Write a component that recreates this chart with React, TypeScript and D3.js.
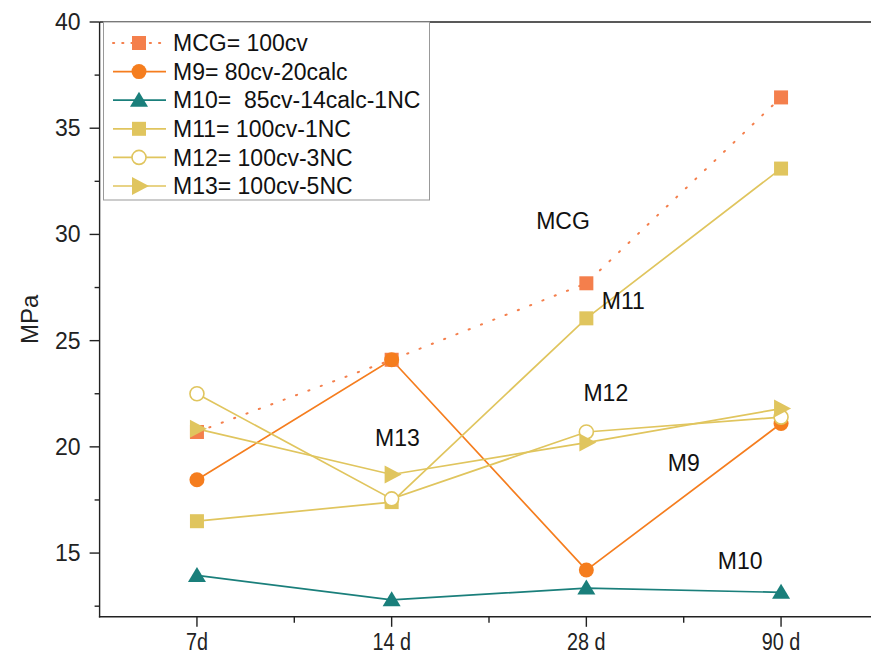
import React from "react";
import * as d3 from "d3";

const categories = ["7d", "14 d", "28 d", "90 d"];
const seriesNames = [
  "MCG= 100cv",
  "M9= 80cv-20calc",
  "M10=  85cv-14calc-1NC",
  "M11= 100cv-1NC",
  "M12= 100cv-3NC",
  "M13= 100cv-5NC",
];
const mcg = [20.7, 24.1, 27.7, 36.45];
const m9 = [18.45, 24.1, 14.2, 21.1];
const m10 = [13.95, 12.8, 13.35, 13.15];
const m11 = [16.5, 17.4, 26.05, 33.1];
const m12 = [22.5, 17.55, 20.7, 21.4];
const m13 = [20.85, 18.7, 20.2, 21.8];
const yTicks = [15, 20, 25, 30, 35, 40];
const annotations = [
  { text: "MCG", cat: 2.88, val: 30.25 },
  { text: "M11", cat: 3.19, val: 26.5 },
  { text: "M12", cat: 3.1, val: 22.15 },
  { text: "M13", cat: 2.03, val: 20.05 },
  { text: "M9", cat: 3.5, val: 18.85 },
  { text: "M10", cat: 3.79, val: 14.25 },
];

const W = 871;
const H = 658;
const FONT = "'Liberation Sans', Arial, sans-serif";

type Marker = "square" | "circle" | "triangle" | "open" | "right";
interface Series {
  name: string;
  values: number[];
  color: string;
  marker: Marker;
  dotted?: boolean;
}

const series: Series[] = [
  { name: seriesNames[0], values: mcg, color: "#f47f4c", marker: "square", dotted: true },
  { name: seriesNames[1], values: m9, color: "#f57d1e", marker: "circle" },
  { name: seriesNames[2], values: m10, color: "#1a7f7b", marker: "triangle" },
  { name: seriesNames[3], values: m11, color: "#e0c55e", marker: "square" },
  { name: seriesNames[4], values: m12, color: "#e0c55e", marker: "open" },
  { name: seriesNames[5], values: m13, color: "#e0c55e", marker: "right" },
];

function MarkerShape({ type, x, y, color }: { type: Marker; x: number; y: number; color: string }) {
  if (type === "square") return <rect x={x - 7} y={y - 7} width={14} height={14} fill={color} />;
  if (type === "circle") return <circle cx={x} cy={y} r={7.5} fill={color} />;
  if (type === "open") return <circle cx={x} cy={y} r={7} fill="#fff" stroke={color} strokeWidth={1.6} />;
  if (type === "triangle")
    return <path d={`M${x},${y - 8.5}L${x + 9},${y + 6.5}L${x - 9},${y + 6.5}Z`} fill={color} />;
  return <path d={`M${x - 7},${y - 9}L${x + 10},${y}L${x - 7},${y + 9}Z`} fill={color} />;
}

export default function App() {
  const x = d3.scaleLinear().domain([0.5, 4.5]).range([99.6, 878.4]);
  const y = d3.scaleLinear().domain([12, 40]).range([616.8, 22]);
  const line = d3
    .line<number>()
    .x((_, i) => x(i + 1))
    .y((v) => y(v));

  const minorY = d3.range(12.5, 40, 5);
  const minorX = d3.range(1.5, 4.5, 1);
  const axisY = y(12);
  const axisX = x(0.5);

  const legendRowY = (i: number) => 43 + i * 28.6;

  return (
    <svg
      width={W}
      height={H}
      style={{ position: "absolute", left: 0, top: 0, background: "#fff" }}
      fontFamily={FONT}
    >
      <rect width={W} height={H} fill="#fff" />
      {/* frame top */}
      <line x1={axisX} x2={W} y1={y(40)} y2={y(40)} stroke="#222" strokeWidth={1.4} />

      {/* series lines */}
      {series.map((s, si) => (
        <path
          key={"l" + si}
          d={line(s.values) || ""}
          fill="none"
          stroke={s.color}
          strokeWidth={s.dotted ? 2 : 1.7}
          strokeDasharray={s.dotted ? "1.2 12" : undefined}
          strokeLinecap={s.dotted ? "round" : "butt"}
        />
      ))}
      {/* markers */}
      {series.map((s, si) =>
        s.values.map((v, i) => (
          <MarkerShape key={`m${si}-${i}`} type={s.marker} x={x(i + 1)} y={y(v)} color={s.color} />
        ))
      )}

      {/* axes */}
      <line x1={axisX} x2={axisX} y1={y(40)} y2={axisY + 0.7} stroke="#222" strokeWidth={1.4} />
      <line x1={axisX - 0.7} x2={W} y1={axisY} y2={axisY} stroke="#222" strokeWidth={1.4} />
      {yTicks.map((t) => (
        <g key={"yt" + t}>
          <line x1={axisX - 10} x2={axisX} y1={y(t)} y2={y(t)} stroke="#222" strokeWidth={1.4} />
          <text x={axisX - 19} y={y(t)} dy="0.35em" textAnchor="end" fontSize={23} fill="#222">
            {t}
          </text>
        </g>
      ))}
      {minorY.map((t) => (
        <line key={"ym" + t} x1={axisX - 5} x2={axisX} y1={y(t)} y2={y(t)} stroke="#222" strokeWidth={1.4} />
      ))}
      {categories.map((c, i) => (
        <g key={"xt" + c}>
          <line x1={x(i + 1)} x2={x(i + 1)} y1={axisY} y2={axisY + 10} stroke="#222" strokeWidth={1.4} />
          <text
            x={x(i + 1)}
            y={axisY + 33}
            textAnchor="middle"
            fontSize={23}
            fill="#222"
            transform={`translate(${x(i + 1)},0) scale(0.86,1) translate(${-x(i + 1)},0)`}
          >
            {c}
          </text>
        </g>
      ))}
      {minorX.map((t) => (
        <line key={"xm" + t} x1={x(t)} x2={x(t)} y1={axisY} y2={axisY + 6} stroke="#222" strokeWidth={1.4} />
      ))}
      <text
        transform={`translate(38,${(y(40) + axisY) / 2}) rotate(-90)`}
        textAnchor="middle"
        fontSize={24}
        fill="#222"
      >
        MPa
      </text>

      {/* annotations */}
      {annotations.map((a) => (
        <text key={a.text} x={x(a.cat)} y={y(a.val)} textAnchor="middle" fontSize={23} fill="#111">
          {a.text}
        </text>
      ))}

      {/* legend */}
      <rect x={103.5} y={22} width={326} height={178} fill="#fff" stroke="#999" strokeWidth={1} />
      {series.map((s, i) => {
        const ly = legendRowY(i);
        return (
          <g key={"lg" + i}>
            <line
              x1={113}
              x2={166}
              y1={ly}
              y2={ly}
              stroke={s.color}
              strokeWidth={s.dotted ? 2 : 1.7}
              strokeDasharray={s.dotted ? "1.2 8" : undefined}
              strokeLinecap={s.dotted ? "round" : "butt"}
            />
            <MarkerShape type={s.marker} x={139} y={ly} color={s.color} />
            <text x={173} y={ly} dy="0.36em" fontSize={23} fill="#111" style={{ whiteSpace: "pre" }}>
              {s.name}
            </text>
          </g>
        );
      })}
    </svg>
  );
}
